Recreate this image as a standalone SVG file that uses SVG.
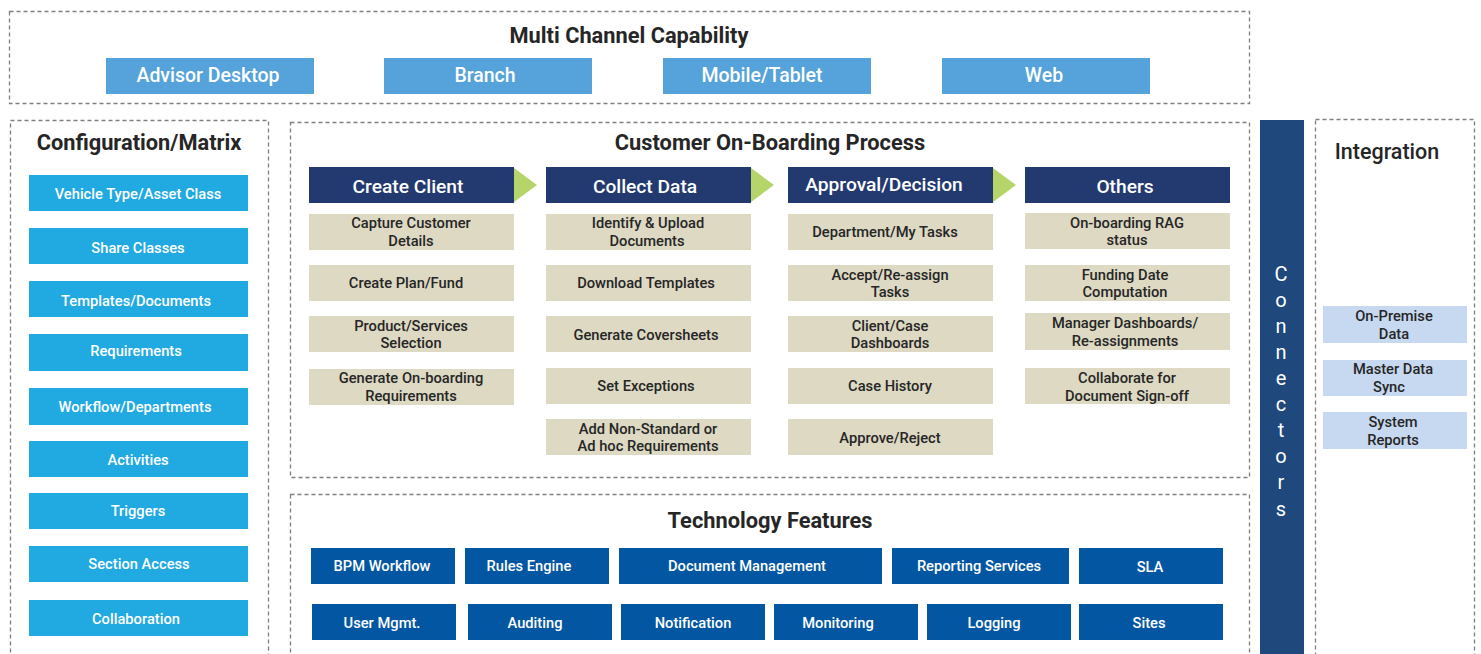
<svg xmlns="http://www.w3.org/2000/svg" width="1481" height="654" viewBox="0 0 1481 654">
<style>
.dash{fill:none;stroke:#7f7f7f;stroke-width:1.3;stroke-dasharray:4 3}
.t{font-family:Roboto,"Liberation Sans",sans-serif}
.title{font-size:21.8px;font-weight:700;fill:#262626;text-anchor:middle}
.chan{fill:#55a3da}
.chant{font-size:19.5px;font-weight:500;fill:#fff;text-anchor:middle}
.cfg{fill:#21a9e1}
.wt{font-size:14.7px;font-weight:500;fill:#fff;text-anchor:middle}
.hdr{fill:#233a70}
.hdrt{font-size:19.2px;font-weight:500;fill:#fff;text-anchor:middle}
.arr{fill:#b5d56a}
.bg{fill:#ddd9c3}
.dt{font-size:14.7px;font-weight:500;fill:#262626;text-anchor:middle}
.tech{fill:#0357a2}
.intg{fill:#c6d9f0}
</style>
<rect width="1481" height="654" fill="#fff"/>

<g id="multi-channel">
<rect class="dash" x="9.5" y="11.5" width="1240" height="92"/>
<text class="t title" x="629" y="43">Multi Channel Capability</text>
<g id="ch-advisor"><rect class="chan" x="106" y="58" width="208" height="36"/><text class="t chant" x="208" y="82">Advisor Desktop</text></g>
<g id="ch-branch"><rect class="chan" x="384" y="58" width="208" height="36"/><text class="t chant" x="485" y="82">Branch</text></g>
<g id="ch-mobile"><rect class="chan" x="663" y="58" width="208" height="36"/><text class="t chant" x="762" y="82">Mobile/Tablet</text></g>
<g id="ch-web"><rect class="chan" x="942" y="58" width="208" height="36"/><text class="t chant" x="1044" y="82">Web</text></g>
</g>

<g id="configuration">
<rect class="dash" x="10.5" y="120.5" width="258" height="540"/>
<text class="t title" x="139" y="150">Configuration/Matrix</text>
<g id="cfg-1"><rect class="cfg" x="29" y="175" width="219" height="36"/><text class="t wt" x="138" y="199">Vehicle Type/Asset Class</text></g>
<g id="cfg-2"><rect class="cfg" x="29" y="228" width="219" height="36"/><text class="t wt" x="138" y="253">Share Classes</text></g>
<g id="cfg-3"><rect class="cfg" x="29" y="281" width="219" height="36"/><text class="t wt" x="136" y="306">Templates/Documents</text></g>
<g id="cfg-4"><rect class="cfg" x="29" y="334" width="219" height="37"/><text class="t wt" x="136" y="356">Requirements</text></g>
<g id="cfg-5"><rect class="cfg" x="29" y="388" width="219" height="37"/><text class="t wt" x="135" y="412">Workflow/Departments</text></g>
<g id="cfg-6"><rect class="cfg" x="29" y="441" width="219" height="36"/><text class="t wt" x="138" y="465">Activities</text></g>
<g id="cfg-7"><rect class="cfg" x="29" y="493" width="219" height="36"/><text class="t wt" x="138" y="516">Triggers</text></g>
<g id="cfg-8"><rect class="cfg" x="29" y="546" width="219" height="36"/><text class="t wt" x="139" y="569">Section Access</text></g>
<g id="cfg-9"><rect class="cfg" x="29" y="600" width="219" height="36"/><text class="t wt" x="136" y="624">Collaboration</text></g>
</g>

<g id="onboarding">
<rect class="dash" x="290.5" y="122.5" width="959" height="355"/>
<text class="t title" x="770" y="150">Customer On-Boarding Process</text>

<g id="col-create">
<rect class="hdr" x="309" y="167" width="205" height="36"/><text class="t hdrt" x="408" y="193">Create Client</text>
<polygon class="arr" points="514,168 537,185 514,202"/>
<g><rect class="bg" x="309" y="214" width="205" height="36"/><text class="t dt" x="411" y="228">Capture Customer</text><text class="t dt" x="411" y="246">Details</text></g>
<g><rect class="bg" x="309" y="265" width="205" height="36"/><text class="t dt" x="406" y="288">Create Plan/Fund</text></g>
<g><rect class="bg" x="309" y="316" width="205" height="36"/><text class="t dt" x="411" y="331">Product/Services</text><text class="t dt" x="411" y="348">Selection</text></g>
<g><rect class="bg" x="309" y="369" width="205" height="36"/><text class="t dt" x="411" y="383">Generate On-boarding</text><text class="t dt" x="411" y="401">Requirements</text></g>
</g>

<g id="col-collect">
<rect class="hdr" x="546" y="167" width="205" height="36"/><text class="t hdrt" x="645" y="193">Collect Data</text>
<polygon class="arr" points="751,168 774,185 751,202"/>
<g><rect class="bg" x="546" y="214" width="205" height="36"/><text class="t dt" x="648" y="228">Identify &amp; Upload</text><text class="t dt" x="647" y="246">Documents</text></g>
<g><rect class="bg" x="546" y="265" width="205" height="36"/><text class="t dt" x="646" y="288">Download Templates</text></g>
<g><rect class="bg" x="546" y="316" width="205" height="36"/><text class="t dt" x="646" y="340">Generate Coversheets</text></g>
<g><rect class="bg" x="546" y="368" width="205" height="36"/><text class="t dt" x="646" y="391">Set Exceptions</text></g>
<g><rect class="bg" x="546" y="419" width="205" height="36"/><text class="t dt" x="648" y="434">Add Non-Standard or</text><text class="t dt" x="648" y="451">Ad hoc Requirements</text></g>
</g>

<g id="col-approval">
<rect class="hdr" x="788" y="167" width="205" height="36"/><text class="t hdrt" x="884" y="191">Approval/Decision</text>
<polygon class="arr" points="993,168 1016,185 993,202"/>
<g><rect class="bg" x="788" y="214" width="205" height="36"/><text class="t dt" x="885" y="237">Department/My Tasks</text></g>
<g><rect class="bg" x="788" y="265" width="205" height="36"/><text class="t dt" x="890" y="280">Accept/Re-assign</text><text class="t dt" x="890" y="297">Tasks</text></g>
<g><rect class="bg" x="788" y="316" width="205" height="36"/><text class="t dt" x="890" y="331">Client/Case</text><text class="t dt" x="890" y="348">Dashboards</text></g>
<g><rect class="bg" x="788" y="368" width="205" height="36"/><text class="t dt" x="890" y="391">Case History</text></g>
<g><rect class="bg" x="788" y="419" width="205" height="36"/><text class="t dt" x="890" y="443">Approve/Reject</text></g>
</g>

<g id="col-others">
<rect class="hdr" x="1025" y="167" width="205" height="36"/><text class="t hdrt" x="1125" y="193">Others</text>
<g><rect class="bg" x="1025" y="213" width="205" height="36"/><text class="t dt" x="1127" y="228">On-boarding RAG</text><text class="t dt" x="1127" y="245">status</text></g>
<g><rect class="bg" x="1025" y="265" width="205" height="36"/><text class="t dt" x="1125" y="280">Funding Date</text><text class="t dt" x="1125" y="297">Computation</text></g>
<g><rect class="bg" x="1025" y="313" width="205" height="37"/><text class="t dt" x="1125" y="328">Manager Dashboards/</text><text class="t dt" x="1125" y="346">Re-assignments</text></g>
<g><rect class="bg" x="1025" y="368" width="205" height="36"/><text class="t dt" x="1127" y="383">Collaborate for</text><text class="t dt" x="1127" y="401">Document Sign-off</text></g>
</g>
</g>

<g id="technology">
<rect class="dash" x="290.5" y="494.5" width="959" height="170"/>
<text class="t title" x="770" y="528">Technology Features</text>
<g><rect class="tech" x="311" y="548" width="144" height="36"/><text class="t wt" x="382" y="571">BPM Workflow</text></g>
<g><rect class="tech" x="465" y="548" width="144" height="36"/><text class="t wt" x="529" y="571">Rules Engine</text></g>
<g><rect class="tech" x="619" y="548" width="263" height="36"/><text class="t wt" x="747" y="571">Document Management</text></g>
<g><rect class="tech" x="892" y="548" width="177" height="36"/><text class="t wt" x="979" y="571">Reporting Services</text></g>
<g><rect class="tech" x="1079" y="548" width="144" height="36"/><text class="t wt" x="1150" y="572">SLA</text></g>
<g><rect class="tech" x="312" y="604" width="144" height="36"/><text class="t wt" x="382" y="628">User Mgmt.</text></g>
<g><rect class="tech" x="468" y="604" width="144" height="36"/><text class="t wt" x="535" y="628">Auditing</text></g>
<g><rect class="tech" x="621" y="604" width="144" height="36"/><text class="t wt" x="693" y="628">Notification</text></g>
<g><rect class="tech" x="774" y="604" width="144" height="36"/><text class="t wt" x="838" y="628">Monitoring</text></g>
<g><rect class="tech" x="927" y="604" width="144" height="36"/><text class="t wt" x="994" y="628">Logging</text></g>
<g><rect class="tech" x="1079" y="604" width="144" height="36"/><text class="t wt" x="1149" y="628">Sites</text></g>
</g>

<g id="connectors-bar">
<rect x="1260" y="120" width="44" height="540" fill="#1f497d"/>
<g class="t" font-size="20" fill="#fff" text-anchor="middle">
<text x="1281" y="281">C</text>
<text x="1281" y="307">o</text>
<text x="1281" y="333">n</text>
<text x="1281" y="359">n</text>
<text x="1281" y="385">e</text>
<text x="1281" y="411">c</text>
<text x="1281" y="437">t</text>
<text x="1281" y="463">o</text>
<text x="1281" y="489">r</text>
<text x="1281" y="516">s</text>
</g>
</g>

<g id="integration">
<rect class="dash" x="1315.5" y="119.5" width="159" height="540"/>
<text class="t" x="1387" y="159" font-size="21.5" font-weight="500" fill="#262626" text-anchor="middle">Integration</text>
<g><rect class="intg" x="1323" y="306" width="144" height="37"/><text class="t dt" x="1394" y="321">On-Premise</text><text class="t dt" x="1394" y="339">Data</text></g>
<g><rect class="intg" x="1323" y="360" width="144" height="36"/><text class="t dt" x="1393" y="374">Master Data</text><text class="t dt" x="1389" y="392">Sync</text></g>
<g><rect class="intg" x="1323" y="412" width="144" height="37"/><text class="t dt" x="1393" y="427">System</text><text class="t dt" x="1393" y="445">Reports</text></g>
</g>
</svg>
